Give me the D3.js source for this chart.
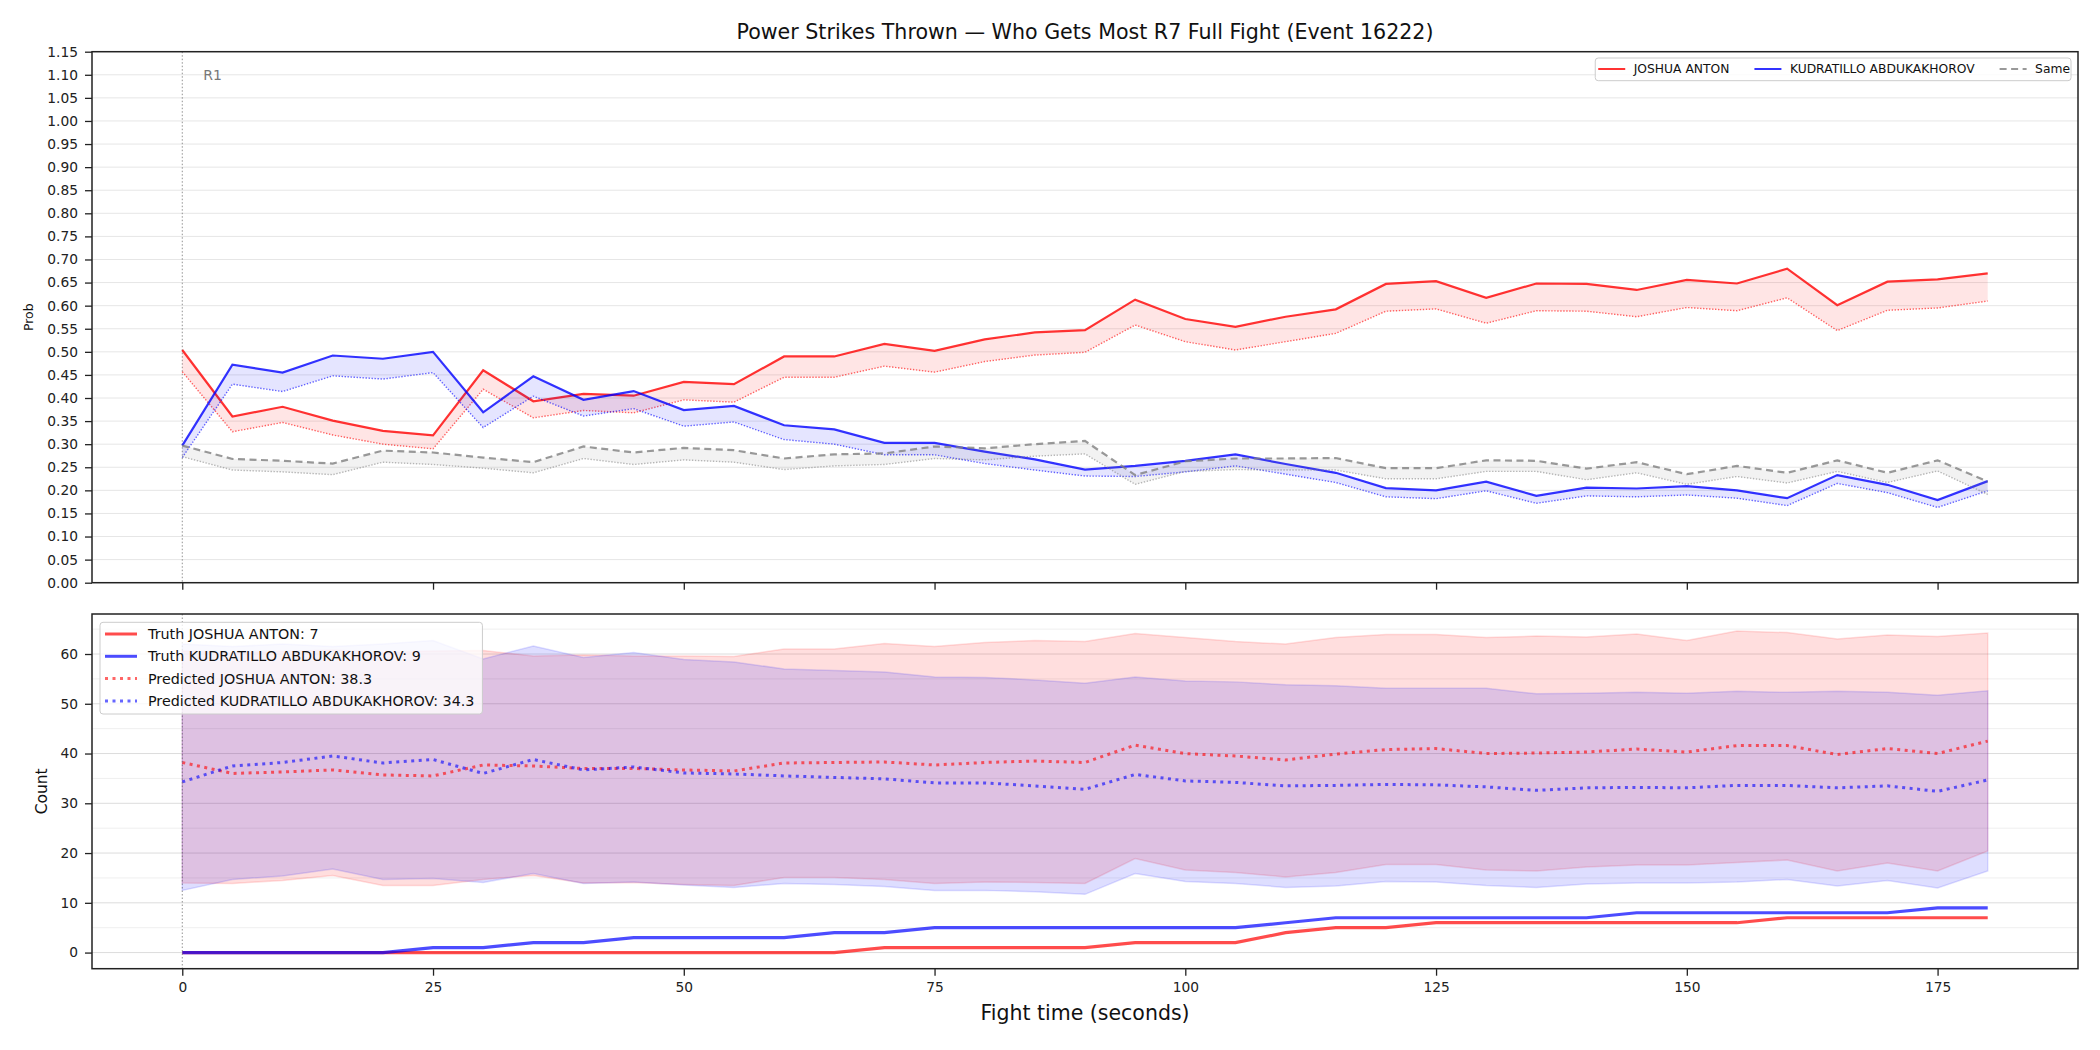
<!DOCTYPE html>
<html>
<head>
<meta charset="utf-8">
<script src="https://cdn.jsdelivr.net/npm/d3@7"></script>
<style>
  body { margin: 0; background: #fff; }
  text { font-family: "DejaVu Sans", sans-serif; }
</style>
</head>
<body>
<svg id="chart" width="2100" height="1050"></svg>
<script>
// fight time (seconds), one sample every 5 s
const fightTime = [0, 5, 10, 15, 20, 25, 30, 35, 40, 45, 50, 55, 60, 65, 70, 75, 80, 85, 90,
  95, 100, 105, 110, 115, 120, 125, 130, 135, 140, 145, 150, 155, 160, 165, 170, 175, 180];

// top panel: win prob (solid) and lower bound (dotted)
const antonProb = [.504, .360, .381, .351, .329, .319, .460, .393, .409, .405, .435, .430, .490, .490, .517, .502, .527, .542, .547,
  .613, .571, .554, .576, .592, .647, .653, .617, .648, .647, .634, .656, .648, .680, .601, .652, .657, .670];
const antonProbLow = [.457, .327, .347, .320, .300, .290, .419, .357, .373, .368, .396, .391, .445, .445, .469, .456, .479, .493, .499,
  .558, .522, .504, .522, .540, .588, .593, .562, .589, .588, .576, .596, .589, .617, .546, .590, .595, .610];
const kudProb = [.297, .472, .455, .492, .485, .500, .369, .447, .396, .415, .374, .383, .341, .332, .303, .303, .284, .267, .245,
  .253, .264, .278, .257, .238, .205, .200, .219, .188, .206, .204, .209, .200, .183, .233, .212, .179, .220];
const kudProbLow = [.271, .430, .414, .448, .441, .455, .336, .404, .361, .377, .339, .348, .310, .300, .277, .277, .258, .244, .231,
  .230, .240, .253, .235, .217, .186, .182, .199, .172, .188, .186, .190, .183, .167, .215, .195, .163, .199];
const sameProb = [.297, .268, .264, .258, .286, .282, .271, .261, .295, .282, .292, .287, .269, .278, .280, .295, .291, .300, .307,
  .233, .263, .269, .269, .270, .248, .248, .265, .264, .247, .261, .235, .253, .238, .265, .238, .265, .219];
const sameProbLow = [.273, .244, .240, .234, .261, .256, .248, .238, .269, .256, .266, .261, .245, .253, .256, .269, .266, .274, .279,
  .213, .241, .245, .244, .244, .225, .225, .241, .241, .223, .238, .213, .230, .216, .241, .217, .242, .191];

// bottom panel: counts
const truthAnton = [0, 0, 0, 0, 0, 0, 0, 0, 0, 0, 0, 0, 0, 0, 1, 1, 1, 1, 1,
  2, 2, 2, 4, 5, 5, 6, 6, 6, 6, 6, 6, 6, 7, 7, 7, 7, 7];
const truthKud = [0, 0, 0, 0, 0, 1, 1, 2, 2, 3, 3, 3, 3, 4, 4, 5, 5, 5, 5,
  5, 5, 5, 6, 7, 7, 7, 7, 7, 7, 8, 8, 8, 8, 8, 8, 9, 9];
const predAnton = [38.2, 36.0, 36.3, 36.7, 35.7, 35.5, 37.7, 37.5, 37.0, 37.0, 36.7, 36.5, 38.1, 38.2, 38.3, 37.7, 38.2, 38.5, 38.2,
  41.7, 40.0, 39.5, 38.7, 39.9, 40.8, 41.0, 40.0, 40.1, 40.3, 40.9, 40.3, 41.6, 41.6, 39.8, 41.0, 40.0, 42.5];
const predKud = [34.3, 37.5, 38.2, 39.5, 38.1, 38.8, 36.0, 38.8, 36.7, 37.3, 36.1, 35.9, 35.5, 35.2, 34.9, 34.1, 34.1, 33.5, 32.8,
  35.8, 34.5, 34.2, 33.5, 33.6, 33.8, 33.7, 33.3, 32.6, 33.1, 33.2, 33.1, 33.6, 33.6, 33.1, 33.5, 32.4, 34.7];
const antonHi = [60.6, 60.2, 60.5, 60.8, 60.3, 60.6, 60.7, 59.6, 59.8, 59.6, 59.6, 59.5, 61.0, 61.0, 62.1, 61.5, 62.3, 62.7, 62.5,
  64.1, 63.3, 62.5, 62.0, 63.3, 63.9, 63.9, 63.3, 63.6, 63.4, 64.0, 62.7, 64.6, 64.3, 63.0, 63.8, 63.5, 64.2];
const antonLo = [14.0, 13.9, 14.5, 15.5, 13.5, 13.5, 14.7, 15.5, 14.0, 14.1, 13.7, 13.5, 15.1, 15.1, 14.7, 13.9, 14.2, 14.1, 13.9,
  18.9, 16.6, 16.1, 15.2, 16.1, 17.7, 17.7, 16.6, 16.4, 17.2, 17.6, 17.6, 18.1, 18.6, 16.4, 18.0, 16.4, 20.4];
const kudHi = [62.0, 61.5, 62.0, 61.5, 62.0, 62.7, 59.0, 61.6, 59.3, 60.3, 58.9, 58.4, 57.0, 56.7, 56.4, 55.4, 55.3, 54.8, 54.1,
  55.4, 54.6, 54.4, 53.8, 53.6, 53.1, 53.1, 53.1, 52.0, 52.1, 52.3, 52.1, 52.5, 52.3, 52.5, 52.3, 51.7, 52.6];
const kudLo = [12.5, 14.7, 15.4, 16.8, 14.7, 14.9, 14.1, 15.9, 13.9, 14.2, 13.6, 13.1, 13.9, 13.7, 13.3, 12.5, 12.5, 12.2, 11.7,
  15.9, 14.3, 13.9, 13.1, 13.4, 14.3, 14.2, 13.5, 13.1, 13.8, 14.0, 14.0, 14.2, 14.7, 13.4, 14.5, 13.0, 16.4];

// ticks and labels
const timeTicks = [0, 25, 50, 75, 100, 125, 150, 175];
const probTicks = [0, .05, .10, .15, .20, .25, .30, .35, .40, .45, .50, .55, .60, .65, .70, .75, .80, .85, .90, .95, 1.00, 1.05, 1.10, 1.15];
const countTicks = [0, 10, 20, 30, 40, 50, 60];
const countMinor = [5, 15, 25, 35, 45, 55, 65];
const topLegend = ['JOSHUA ANTON', 'KUDRATILLO ABDUKAKHOROV', 'Same'];
const bottomLegend = ['Truth JOSHUA ANTON: 7', 'Truth KUDRATILLO ABDUKAKHOROV: 9',
  'Predicted JOSHUA ANTON: 38.3', 'Predicted KUDRATILLO ABDUKAKHOROV: 34.3'];

const RED = 'rgba(255,0,0,0.8)', BLUE = 'rgba(0,0,255,0.8)', GRAY = 'rgba(128,128,128,0.8)';

const svg = d3.select('#chart');
svg.append('rect').attr('width', 2100).attr('height', 1050).attr('fill', '#fff');

const left = 92, right = 2078;
const topTop = 51.7, topBot = 582.7, botTop = 614, botBot = 968.7;

const x = d3.scaleLinear().domain([-9, 189]).range([left, right]);
const yProb = d3.scaleLinear().domain([0, 1.15]).range([topBot, topTop]);
const yCount = d3.scaleLinear().domain([-3.24, 68.04]).range([botBot, botTop]);

const defs = svg.append('defs');
defs.append('clipPath').attr('id', 'clipTop').append('rect')
  .attr('x', left).attr('y', topTop).attr('width', right - left).attr('height', topBot - topTop);
defs.append('clipPath').attr('id', 'clipBot').append('rect')
  .attr('x', left).attr('y', botTop).attr('width', right - left).attr('height', botBot - botTop);

const lineOf = (ys) => d3.line().x((d, i) => x(fightTime[i])).y(d => ys(d));
const bandOf = (ys, lo, hi) => d3.area()
  .x((d, i) => x(fightTime[i])).y0((d, i) => ys(lo[i])).y1((d, i) => ys(hi[i]));

// ---------- top panel ----------
const probPanel = svg.append('g');
probPanel.selectAll('.grid').data(probTicks).enter().append('line')
  .attr('x1', left).attr('x2', right)
  .attr('y1', d => yProb(d)).attr('y2', d => yProb(d))
  .attr('stroke', '#e6e6e6').attr('stroke-width', 1);

probPanel.append('line')
  .attr('x1', x(0)).attr('x2', x(0)).attr('y1', topTop).attr('y2', topBot)
  .attr('stroke', 'rgba(100,100,100,0.7)').attr('stroke-width', 1).attr('stroke-dasharray', '1.5,2');
probPanel.append('text').attr('x', x(0) + 21).attr('y', yProb(1.10))
  .attr('dominant-baseline', 'central').attr('font-size', 14).attr('fill', '#777').text('R1');

const probPlot = probPanel.append('g').attr('clip-path', 'url(#clipTop)');
const probSeries = [
  { hi: antonProb, lo: antonProbLow, color: RED, fill: 'rgba(255,0,0,0.1)', dot: 'rgba(255,0,0,0.6)', dash: null },
  { hi: kudProb, lo: kudProbLow, color: BLUE, fill: 'rgba(0,0,255,0.1)', dot: 'rgba(0,0,255,0.6)', dash: null },
  { hi: sameProb, lo: sameProbLow, color: GRAY, fill: 'rgba(128,128,128,0.1)', dot: 'rgba(128,128,128,0.55)', dash: '7,4.5' }
];
probSeries.forEach(s => {
  probPlot.append('path').datum(fightTime).attr('d', bandOf(yProb, s.lo, s.hi)).attr('fill', s.fill);
  probPlot.append('path').datum(s.lo).attr('d', lineOf(yProb))
    .attr('fill', 'none').attr('stroke', s.dot).attr('stroke-width', 1.4).attr('stroke-dasharray', '1.4,1.6');
  probPlot.append('path').datum(s.hi).attr('d', lineOf(yProb))
    .attr('fill', 'none').attr('stroke', s.color).attr('stroke-width', 2.2)
    .attr('stroke-dasharray', s.dash);
});

// ---------- bottom panel ----------
const countPanel = svg.append('g');
countPanel.selectAll('.minor').data(countMinor).enter().append('line')
  .attr('x1', left).attr('x2', right)
  .attr('y1', d => yCount(d)).attr('y2', d => yCount(d))
  .attr('stroke', '#efefef').attr('stroke-width', 1);
countPanel.selectAll('.major').data(countTicks).enter().append('line')
  .attr('x1', left).attr('x2', right)
  .attr('y1', d => yCount(d)).attr('y2', d => yCount(d))
  .attr('stroke', '#dcdcdc').attr('stroke-width', 1);

const countPlot = countPanel.append('g').attr('clip-path', 'url(#clipBot)');
countPlot.append('path').datum(fightTime).attr('d', bandOf(yCount, antonLo, antonHi))
  .attr('fill', 'rgba(255,0,0,0.13)').attr('stroke', 'rgba(255,0,0,0.13)').attr('stroke-width', 1.5);
countPlot.append('path').datum(fightTime).attr('d', bandOf(yCount, kudLo, kudHi))
  .attr('fill', 'rgba(0,0,255,0.13)').attr('stroke', 'rgba(0,0,255,0.13)').attr('stroke-width', 1.5);

countPanel.append('line')
  .attr('x1', x(0)).attr('x2', x(0)).attr('y1', botTop).attr('y2', botBot)
  .attr('stroke', 'rgba(100,100,100,0.7)').attr('stroke-width', 1).attr('stroke-dasharray', '1.5,2');

countPlot.append('path').datum(predAnton).attr('d', lineOf(yCount))
  .attr('fill', 'none').attr('stroke', 'rgba(255,0,0,0.6)').attr('stroke-width', 3).attr('stroke-dasharray', '3,4.5');
countPlot.append('path').datum(predKud).attr('d', lineOf(yCount))
  .attr('fill', 'none').attr('stroke', 'rgba(0,0,255,0.6)').attr('stroke-width', 3).attr('stroke-dasharray', '3,4.5');
countPlot.append('path').datum(truthAnton).attr('d', lineOf(yCount))
  .attr('fill', 'none').attr('stroke', 'rgba(255,0,0,0.7)').attr('stroke-width', 3.2);
countPlot.append('path').datum(truthKud).attr('d', lineOf(yCount))
  .attr('fill', 'none').attr('stroke', 'rgba(0,0,255,0.7)').attr('stroke-width', 3.2);

// ---------- axes ----------
function styleAxis(g) {
  g.select('.domain').remove();
  g.selectAll('.tick line').attr('stroke', '#222').attr('stroke-width', 1.3);
  g.selectAll('.tick text').attr('fill', '#222').attr('font-size', 13.8);
}
svg.append('g').attr('transform', `translate(${left},0)`)
  .call(d3.axisLeft(yProb).tickValues(probTicks).tickFormat(d3.format('.2f')).tickSize(7).tickPadding(7))
  .call(styleAxis);
svg.append('g').attr('transform', `translate(0,${topBot})`)
  .call(d3.axisBottom(x).tickValues(timeTicks).tickFormat('').tickSize(7))
  .call(styleAxis);
svg.append('g').attr('transform', `translate(${left},0)`)
  .call(d3.axisLeft(yCount).tickValues(countTicks).tickFormat(d3.format('d')).tickSize(7).tickPadding(7))
  .call(styleAxis);
svg.append('g').attr('transform', `translate(0,${botBot})`)
  .call(d3.axisBottom(x).tickValues(timeTicks).tickFormat(d3.format('d')).tickSize(7).tickPadding(7))
  .call(styleAxis);

[[topTop, topBot], [botTop, botBot]].forEach(([a, b]) => {
  svg.append('rect').attr('x', left).attr('y', a).attr('width', right - left).attr('height', b - a)
    .attr('fill', 'none').attr('stroke', '#222').attr('stroke-width', 1.5);
});

// ---------- labels ----------
svg.append('text').attr('x', (left + right) / 2).attr('y', 32)
  .attr('text-anchor', 'middle').attr('dominant-baseline', 'central')
  .attr('font-size', 20.6).attr('fill', '#111')
  .text('Power Strikes Thrown \u2014 Who Gets Most R7 Full Fight (Event 16222)');
svg.append('text').attr('x', (left + right) / 2).attr('y', 1013)
  .attr('text-anchor', 'middle').attr('dominant-baseline', 'central')
  .attr('font-size', 20.5).attr('fill', '#111').text('Fight time (seconds)');
svg.append('text').attr('transform', `translate(28,${(topTop + topBot) / 2}) rotate(-90)`)
  .attr('text-anchor', 'middle').attr('dominant-baseline', 'central')
  .attr('font-size', 12.4).attr('fill', '#111').text('Prob');
svg.append('text').attr('transform', `translate(41.5,${(botTop + botBot) / 2}) rotate(-90)`)
  .attr('text-anchor', 'middle').attr('dominant-baseline', 'central')
  .attr('font-size', 15.5).attr('fill', '#111').text('Count');

// ---------- top legend ----------
const tl = svg.append('g');
const tlBox = tl.append('rect');
const tlHandles = [
  { color: RED, dash: null }, { color: BLUE, dash: null }, { color: GRAY, dash: '7,4.5' }
];
let cx = 0;
const tlY = 69;
topLegend.forEach((label, i) => {
  tl.append('line').attr('x1', cx).attr('x2', cx + 27).attr('y1', tlY).attr('y2', tlY)
    .attr('stroke', tlHandles[i].color).attr('stroke-width', 2).attr('stroke-dasharray', tlHandles[i].dash);
  const t = tl.append('text').attr('x', cx + 35.5).attr('y', tlY)
    .attr('dominant-baseline', 'central').attr('font-size', 12.3).attr('fill', '#111').text(label);
  cx += 35.5 + t.node().getComputedTextLength() + 25;
});
const tlW = cx - 25 + 4;
tl.attr('transform', `translate(${2071 - tlW + 3},0)`);
tlBox.attr('x', -3).attr('y', 58).attr('width', tlW).attr('height', 22.7).attr('rx', 3)
  .attr('fill', 'rgba(255,255,255,0.8)').attr('stroke', '#cccccc').attr('stroke-width', 1);

// ---------- bottom legend ----------
const bl = svg.append('g');
const blBox = bl.append('rect');
const blHandles = [
  { color: 'rgba(255,0,0,0.7)', dash: null }, { color: 'rgba(0,0,255,0.7)', dash: null },
  { color: 'rgba(255,0,0,0.6)', dash: '3,4.5' }, { color: 'rgba(0,0,255,0.6)', dash: '3,4.5' }
];
let maxEnd = 0;
bottomLegend.forEach((label, i) => {
  const yy = 634 + i * 22.3;
  bl.append('line').attr('x1', 105).attr('x2', 137).attr('y1', yy).attr('y2', yy)
    .attr('stroke', blHandles[i].color).attr('stroke-width', 3).attr('stroke-dasharray', blHandles[i].dash);
  const t = bl.append('text').attr('x', 148).attr('y', yy)
    .attr('dominant-baseline', 'central').attr('font-size', 14.3).attr('fill', '#111').text(label);
  maxEnd = Math.max(maxEnd, 148 + t.node().getComputedTextLength());
});
blBox.attr('x', 100).attr('y', 622.3).attr('width', maxEnd + 8 - 100).attr('height', 91.7).attr('rx', 3)
  .attr('fill', 'rgba(255,255,255,0.8)').attr('stroke', '#cccccc').attr('stroke-width', 1);
</script>
</body>
</html>
